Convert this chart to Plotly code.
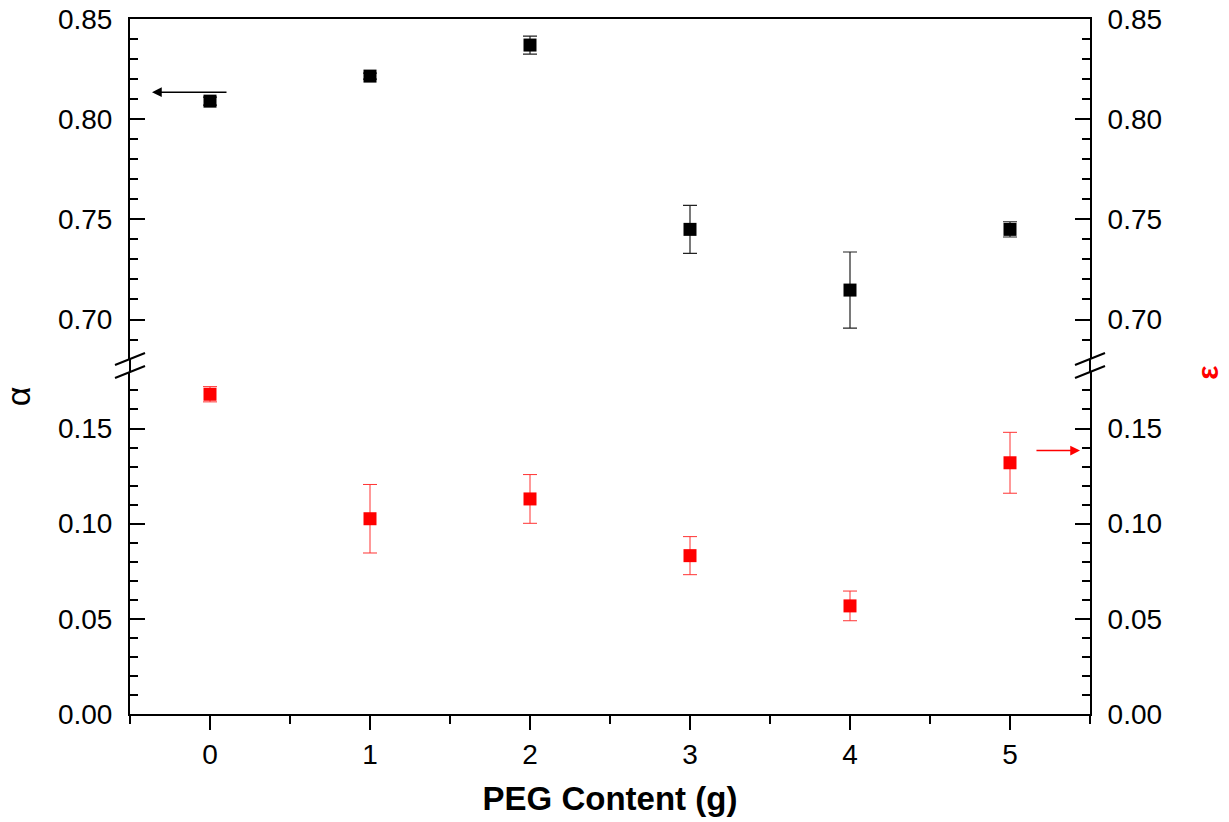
import plotly.graph_objects as go

# ---- data ----
peg = [0, 1, 2, 3, 4, 5]
alpha = [0.809, 0.8215, 0.837, 0.745, 0.7147, 0.745]
alpha_err = [0.002, 0.0015, 0.0045, 0.012, 0.019, 0.0038]
eps = [0.168, 0.1026, 0.113, 0.0832, 0.0568, 0.132]
eps_err = [0.004, 0.018, 0.0128, 0.010, 0.0078, 0.016]

x_ticks = [0, 1, 2, 3, 4, 5]
x_range = [-0.5, 5.5]
top_range = [0.6803, 0.85]
bot_range = [0, 0.1797]

FONT = "Arial, 'Liberation Sans', sans-serif"
dom_bot = [0, 0.4921]
dom_top = [0.5108, 1]

fig = go.Figure()

fig.add_trace(go.Scatter(
    x=peg, y=alpha, mode="markers", xaxis="x2", yaxis="y2",
    marker=dict(symbol="square", size=13, color="black"),
    error_y=dict(type="data", array=alpha_err, visible=True,
                 color="#222222", thickness=1.2, width=7),
    showlegend=False))

fig.add_trace(go.Scatter(
    x=peg, y=eps, mode="markers", xaxis="x", yaxis="y",
    marker=dict(symbol="square", size=13, color="#ff0000"),
    error_y=dict(type="data", array=eps_err, visible=True,
                 color="#ff3333", thickness=1, width=7),
    showlegend=False))

tickfont = dict(family=FONT, size=28, color="black")
common_y = dict(showline=True, linewidth=2, linecolor="black", ticks="inside",
                ticklen=15, tickwidth=2, tickcolor="black", dtick=0.05, tick0=0,
                tickformat=".2f", showgrid=False, zeroline=False, tickfont=tickfont,
                ticklabelstandoff=10, automargin=False,
                minor=dict(dtick=0.01, ticks="inside", ticklen=8, tickwidth=2,
                           tickcolor="black", showgrid=False))

fig.update_layout(
    width=1229, height=822,
    margin=dict(l=130, r=139, t=19, b=108, autoexpand=False),
    paper_bgcolor="white", plot_bgcolor="white",
    font=dict(family=FONT, color="black"),
    xaxis=dict(range=x_range, anchor="y", domain=[0, 1], tickvals=x_ticks,
               showline=True, linewidth=2, linecolor="black", ticks="outside",
               ticklen=14, tickwidth=2, tickcolor="black", showgrid=False,
               zeroline=False, tickfont=tickfont, automargin=False,
               minor=dict(dtick=0.5, tick0=0, ticks="outside", ticklen=8,
                          tickwidth=2, tickcolor="black", showgrid=False),
               title=dict(text="<b>PEG Content (g)</b>",
                          font=dict(family=FONT, size=33, color="black"),
                          standoff=18)),
    xaxis2=dict(matches="x", range=x_range, anchor="y2", side="top",
                showline=True, linewidth=2, linecolor="black", ticks="",
                showticklabels=False, showgrid=False, zeroline=False,
                automargin=False),
    yaxis=dict(domain=dom_bot, range=bot_range, anchor="x", side="left", **common_y),
    yaxis3=dict(domain=dom_bot, range=bot_range, anchor="x", side="right",
                overlaying="y", **common_y),
    yaxis2=dict(domain=dom_top, range=top_range, anchor="x2", side="left", **common_y),
    yaxis4=dict(domain=dom_top, range=top_range, anchor="x2", side="right",
                overlaying="y2", **common_y),
)

# dummy traces so the right-hand axes are drawn
fig.add_trace(go.Scatter(x=[None], y=[None], xaxis="x", yaxis="y3", showlegend=False))
fig.add_trace(go.Scatter(x=[None], y=[None], xaxis="x2", yaxis="y4", showlegend=False))

# axis break marks
dx = 15 / 960
dy = 6 / 695
shapes = []
for xp in (0, 1):
    for yc in (dom_bot[1], dom_top[0]):
        shapes.append(dict(type="line", xref="paper", yref="paper",
                           x0=xp - dx, y0=yc - dy, x1=xp + dx, y1=yc + dy,
                           line=dict(color="black", width=2)))
    shapes.append(dict(type="line", xref="paper", yref="paper",
                       x0=xp, y0=dom_bot[1], x1=xp, y1=dom_top[0],
                       line=dict(color="black", width=2)))
fig.update_layout(shapes=shapes)

annotations = [
    dict(text="α", xref="paper", yref="paper", x=-0.1167, y=0.457,
         xanchor="center", yanchor="middle",
         showarrow=False, textangle=-90, font=dict(family=FONT, size=34, color="black")),
    dict(text="<b>ε</b>", xref="paper", yref="paper", x=1.1229, y=0.491,
         xanchor="center", yanchor="middle",
         showarrow=False, textangle=-90, font=dict(family=FONT, size=30, color="#ff0000")),
    # arrow pointing to left axis (alpha)
    dict(x=-0.3625, y=0.8135, ax=0.1125, ay=0.8135, xref="x2", yref="y2",
         axref="x2", ayref="y2", showarrow=True, arrowhead=2, arrowsize=1.3,
         arrowwidth=1.5, arrowcolor="black", text=""),
    # arrow pointing to right axis (epsilon)
    dict(x=5.4375, y=0.1384, ax=5.156, ay=0.1384, xref="x", yref="y",
         axref="x", ayref="y", showarrow=True, arrowhead=2, arrowsize=1.3,
         arrowwidth=1.5, arrowcolor="#ff0000", text=""),
]
fig.update_layout(annotations=annotations)

fig.write_html("out.html")
